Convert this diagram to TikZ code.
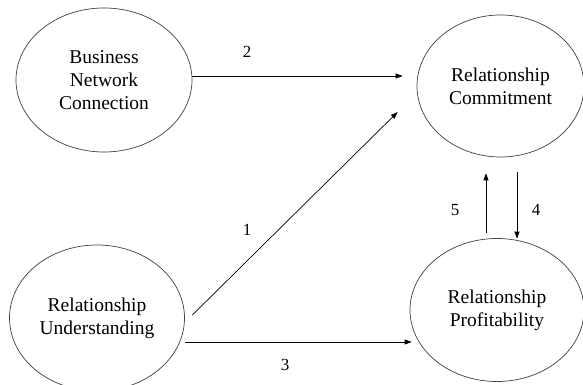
\documentclass[tikz,border=0pt]{standalone}
\usepackage{fontspec}
\setmainfont{Liberation Serif}
\usetikzlibrary{shapes.geometric,arrows.meta,calc}
\begin{document}
\begin{tikzpicture}[x=1pt,y=1pt,
  construct/.style={ellipse,draw=black!75,line width=0.7pt,align=center,
    font=\fontsize{19.5}{23}\selectfont,inner sep=0pt},
  arr/.style={line width=0.7pt,-{Triangle[length=7pt,width=5pt]}},
  num/.style={font=\fontsize{17}{17}\selectfont}]
\clip (0,0) rectangle (583,385);
\fill[white] (0,0) rectangle (583,385);

% constructs
\node[construct,minimum width=176,minimum height=144] (bnc) at (104,305)
  {Business\\Network\\Connection};
\node[construct,minimum width=167,minimum height=142] (rc) at (500.5,299)
  {Relationship\\Commitment};
\node[construct,minimum width=175,minimum height=146] (ru) at (97,67)
  {Relationship\\Understanding};
\node[construct,minimum width=174,minimum height=143] (rp) at (497,75)
  {Relationship\\Profitability};

% hypothesised paths
\draw[arr] ($(bnc.east)+(0,4)$) -- ($(rc.west)+(-14,10)$);
\draw[arr] ($(ru.east)+(7.5,3)$) -- ($(rc.west)+(-19,-26)$);
\draw[arr] ($(ru.east)+(0.5,-24)$) -- ($(rp.west)+(2,-32)$);
\draw[arr] ($(rp.north)+(-11,5.5)$) -- ($(rc.south)+(-14.5,-16)$);
\draw[arr] ($(rc.south)+(16.5,-15)$) -- ($(rp.north)+(20,-0.5)$);

% path labels
\node[num] (l2) at (247,333) {2};
\node[num] (l1) at (247,155) {1};
\node[num] (l3) at (285,20) {3};
\node[num] (l5) at (455,175) {5};
\node[num] (l4) at (536,175) {4};
\end{tikzpicture}
\end{document}
